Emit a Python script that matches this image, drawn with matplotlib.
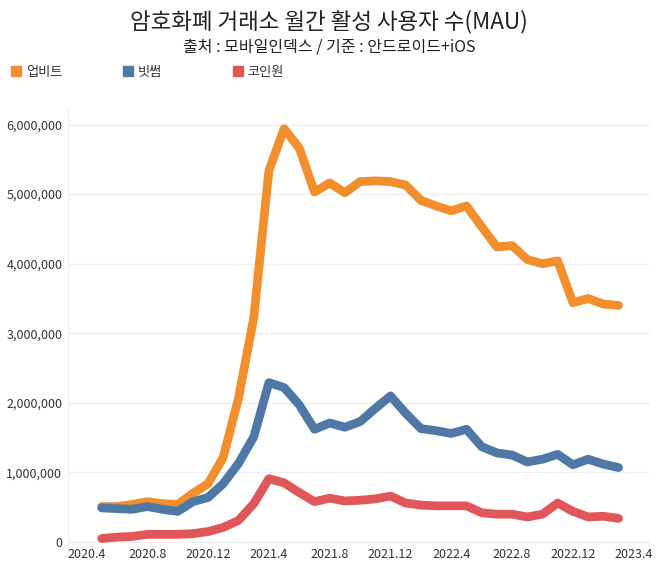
import matplotlib
matplotlib.use('Agg')
import matplotlib.pyplot as plt
from matplotlib.lines import Line2D
from matplotlib.ticker import FuncFormatter

plt.rcParams['font.family'] = ['Noto Sans CJK KR', 'DejaVu Sans']

# monthly active users, 2020.5 ~ 2023.3
months = ['2020.5', '2020.6', '2020.7', '2020.8', '2020.9', '2020.10', '2020.11', '2020.12',
          '2021.1', '2021.2', '2021.3', '2021.4', '2021.5', '2021.6', '2021.7', '2021.8',
          '2021.9', '2021.10', '2021.11', '2021.12', '2022.1', '2022.2', '2022.3', '2022.4',
          '2022.5', '2022.6', '2022.7', '2022.8', '2022.9', '2022.10', '2022.11', '2022.12',
          '2023.1', '2023.2', '2023.3']
upbit = [510000, 510000, 540000, 580000, 550000, 540000, 700000, 840000,
         1220000, 2070000, 3220000, 5340000, 5940000, 5660000, 5030000, 5160000,
         5020000, 5180000, 5190000, 5180000, 5130000, 4910000, 4830000, 4760000,
         4830000, 4530000, 4240000, 4260000, 4060000, 4000000, 4040000, 3440000,
         3500000, 3420000, 3400000]
bithumb = [490000, 480000, 470000, 510000, 470000, 440000, 580000, 640000,
           840000, 1130000, 1510000, 2290000, 2220000, 1970000, 1620000, 1710000,
           1650000, 1730000, 1920000, 2100000, 1850000, 1630000, 1600000, 1560000,
           1620000, 1370000, 1280000, 1250000, 1150000, 1190000, 1260000, 1110000,
           1190000, 1120000, 1070000]
coinone = [50000, 70000, 80000, 110000, 110000, 110000, 120000, 150000,
           210000, 310000, 550000, 910000, 850000, 710000, 580000, 630000,
           590000, 600000, 620000, 660000, 560000, 530000, 520000, 520000,
           520000, 420000, 400000, 400000, 360000, 400000, 560000, 440000,
           360000, 370000, 340000]
xtick_labels = ['2020.4', '2020.8', '2020.12', '2021.4', '2021.8', '2021.12',
                '2022.4', '2022.8', '2022.12', '2023.4']
yticks = [0, 1000000, 2000000, 3000000, 4000000, 5000000, 6000000]


def month_pos(label):
    y, m = label.split('.')
    return (int(y) - 2020) * 12 + int(m) - 4


series = [('업비트', upbit, '#F28E2B'),
          ('빗썸', bithumb, '#4E79A7'),
          ('코인원', coinone, '#E15759')]

fig = plt.figure(figsize=(6.58, 5.70), dpi=100)
ax = fig.add_axes([0.1033, 0.043, 0.8845, 0.769])

x = [month_pos(m) for m in months]
for name, vals, col in series:
    ax.plot(x, vals, color=col, lw=6.3, solid_capstyle='round', solid_joinstyle='round')

ax.set_xlim(-1.22, 37.07)
ax.set_ylim(-50000, 6250000)
ax.set_xticks([month_pos(t) for t in xtick_labels])
ax.set_xticklabels(xtick_labels)
ax.set_yticks(yticks)
ax.yaxis.set_major_formatter(FuncFormatter(lambda v, p: f'{int(v):,}'))
ax.tick_params(axis='both', length=0, labelsize=9, colors='#333333')
ax.tick_params(axis='y', pad=4)
ax.tick_params(axis='x', pad=2)
ax.grid(axis='y', color='#efefef', lw=0.9)
ax.set_axisbelow(True)
for s in ['top', 'right', 'bottom']:
    ax.spines[s].set_visible(False)
ax.spines['left'].set_color('#f0f0f0')

fig.text(0.5, 0.962, '암호화폐 거래소 월간 활성 사용자 수(MAU)', ha='center', va='center',
         fontsize=16.2, color='#222222')
fig.text(0.5, 0.917, '출처 : 모바일인덱스 / 기준 : 안드로이드+iOS', ha='center', va='center',
         fontsize=11.5, color='#222222')

leg_x = [0.005, 0.175, 0.342]
for (name, vals, col), lx in zip(series, leg_x):
    h = Line2D([], [], marker='s', ls='none', color=col, markersize=7.5)
    fig.legend(handles=[h], labels=[name], loc='center left', bbox_to_anchor=(lx, 0.873),
               frameon=False, fontsize=9.5, handletextpad=0.1, borderaxespad=0,
               handlelength=1.2, labelcolor='#333333')

fig.savefig('out.png', dpi=100, facecolor='white')
